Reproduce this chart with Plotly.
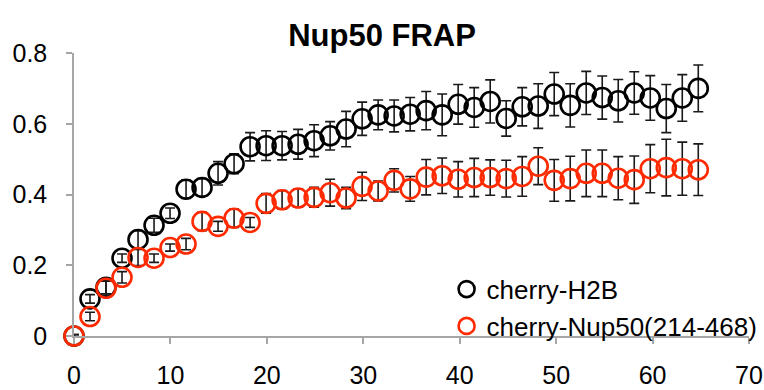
import plotly.graph_objects as go

# Time after bleach (s)
time_s = [0, 1.66, 3.32, 4.98, 6.64, 8.3, 9.96, 11.62, 13.28, 14.94,
          16.6, 18.26, 19.92, 21.58, 23.24, 24.9, 26.56, 28.22, 29.88, 31.54,
          33.2, 34.86, 36.52, 38.18, 39.84, 41.5, 43.16, 44.82, 46.48, 48.14,
          49.8, 51.46, 53.12, 54.78, 56.44, 58.1, 59.76, 61.42, 63.08, 64.74]

# Normalized recovery, cherry-H2B
h2b_mean = [0, 0.105, 0.138, 0.22, 0.273, 0.313, 0.347, 0.415, 0.42, 0.46,
            0.487, 0.535, 0.538, 0.538, 0.542, 0.552, 0.566, 0.585, 0.614, 0.625,
            0.622, 0.627, 0.637, 0.625, 0.655, 0.646, 0.663, 0.615, 0.648, 0.65,
            0.684, 0.652, 0.687, 0.674, 0.665, 0.687, 0.673, 0.643, 0.673, 0.70]
h2b_err = [0.004, 0.012, 0.019, 0.012, 0.025, 0.02, 0.015, 0.026, 0.025, 0.033,
           0.028, 0.04, 0.042, 0.04, 0.042, 0.045, 0.04, 0.05, 0.047, 0.042,
           0.045, 0.047, 0.054, 0.059, 0.056, 0.056, 0.061, 0.05, 0.054, 0.063,
           0.061, 0.061, 0.061, 0.061, 0.06, 0.06, 0.063, 0.068, 0.066, 0.066]

# Normalized recovery, cherry-Nup50(214-468)
nup50_mean = [0, 0.055, 0.135, 0.166, 0.222, 0.22, 0.25, 0.26, 0.324, 0.31,
              0.333, 0.321, 0.375, 0.385, 0.39, 0.392, 0.405, 0.39, 0.423, 0.41,
              0.44, 0.416, 0.449, 0.453, 0.443, 0.448, 0.448, 0.445, 0.451, 0.48,
              0.44, 0.445, 0.46, 0.46, 0.446, 0.442, 0.473, 0.476, 0.473, 0.47]
nup50_err = [0.004, 0.012, 0.02, 0.016, 0.023, 0.012, 0.01, 0.016, 0.026, 0.014,
             0.026, 0.014, 0.028, 0.026, 0.026, 0.028, 0.038, 0.03, 0.04, 0.028,
             0.033, 0.035, 0.05, 0.05, 0.05, 0.054, 0.05, 0.052, 0.056, 0.052,
             0.059, 0.063, 0.066, 0.066, 0.061, 0.067, 0.068, 0.08, 0.075, 0.073]

series_names = ["cherry-H2B", "cherry-Nup50(214-468)"]
series_colors = ["#000000", "#ff2a00"]

FONT = "Liberation Sans, Arial, sans-serif"

fig = go.Figure()
for name, color, mean, err in zip(series_names, series_colors,
                                  [h2b_mean, nup50_mean], [h2b_err, nup50_err]):
    fig.add_trace(go.Scatter(
        x=time_s, y=mean, name=name, mode="markers",
        marker=dict(symbol="circle-open", size=19, color=color,
                    line=dict(width=2.6, color=color)),
        error_y=dict(type="data", array=err, visible=True,
                     color="#1a1a1a", thickness=1.6, width=5),
        cliponaxis=False,
    ))

fig.update_layout(
    width=764, height=390,
    margin=dict(l=74, r=15, t=53, b=54, autoexpand=False),
    paper_bgcolor="white", plot_bgcolor="white",
    font=dict(family=FONT, size=25, color="black"),
    title=dict(text="<b>Nup50 FRAP</b>", x=0.5, xanchor="center",
               y=0.91, yanchor="middle",
               font=dict(family=FONT, size=31, color="black")),
    showlegend=True,
    legend=dict(x=0.552, y=0.1, xanchor="left", yanchor="middle",
                bgcolor="rgba(0,0,0,0)", font=dict(family=FONT, size=26),
                itemwidth=30, tracegroupgap=0),
)

fig.update_xaxes(range=[0, 70], tickvals=[0, 10, 20, 30, 40, 50, 60, 70],
                 showgrid=False, zeroline=False, showline=True,
                 linecolor="#a6a6a6", linewidth=1.5, automargin=False,
                 ticks="outside", ticklen=6, tickwidth=1.5, tickcolor="#a6a6a6",
                 ticklabelstandoff=10)
fig.update_yaxes(range=[0, 0.8], tickvals=[0, 0.2, 0.4, 0.6, 0.8],
                 ticktext=["0", "0.2", "0.4", "0.6", "0.8"],
                 showgrid=False, zeroline=False, showline=True,
                 linecolor="#a6a6a6", linewidth=1.5, automargin=False,
                 ticks="outside", ticklen=6, tickwidth=1.5, tickcolor="#a6a6a6",
                 ticklabelstandoff=14)

fig.write_html("out.html")
